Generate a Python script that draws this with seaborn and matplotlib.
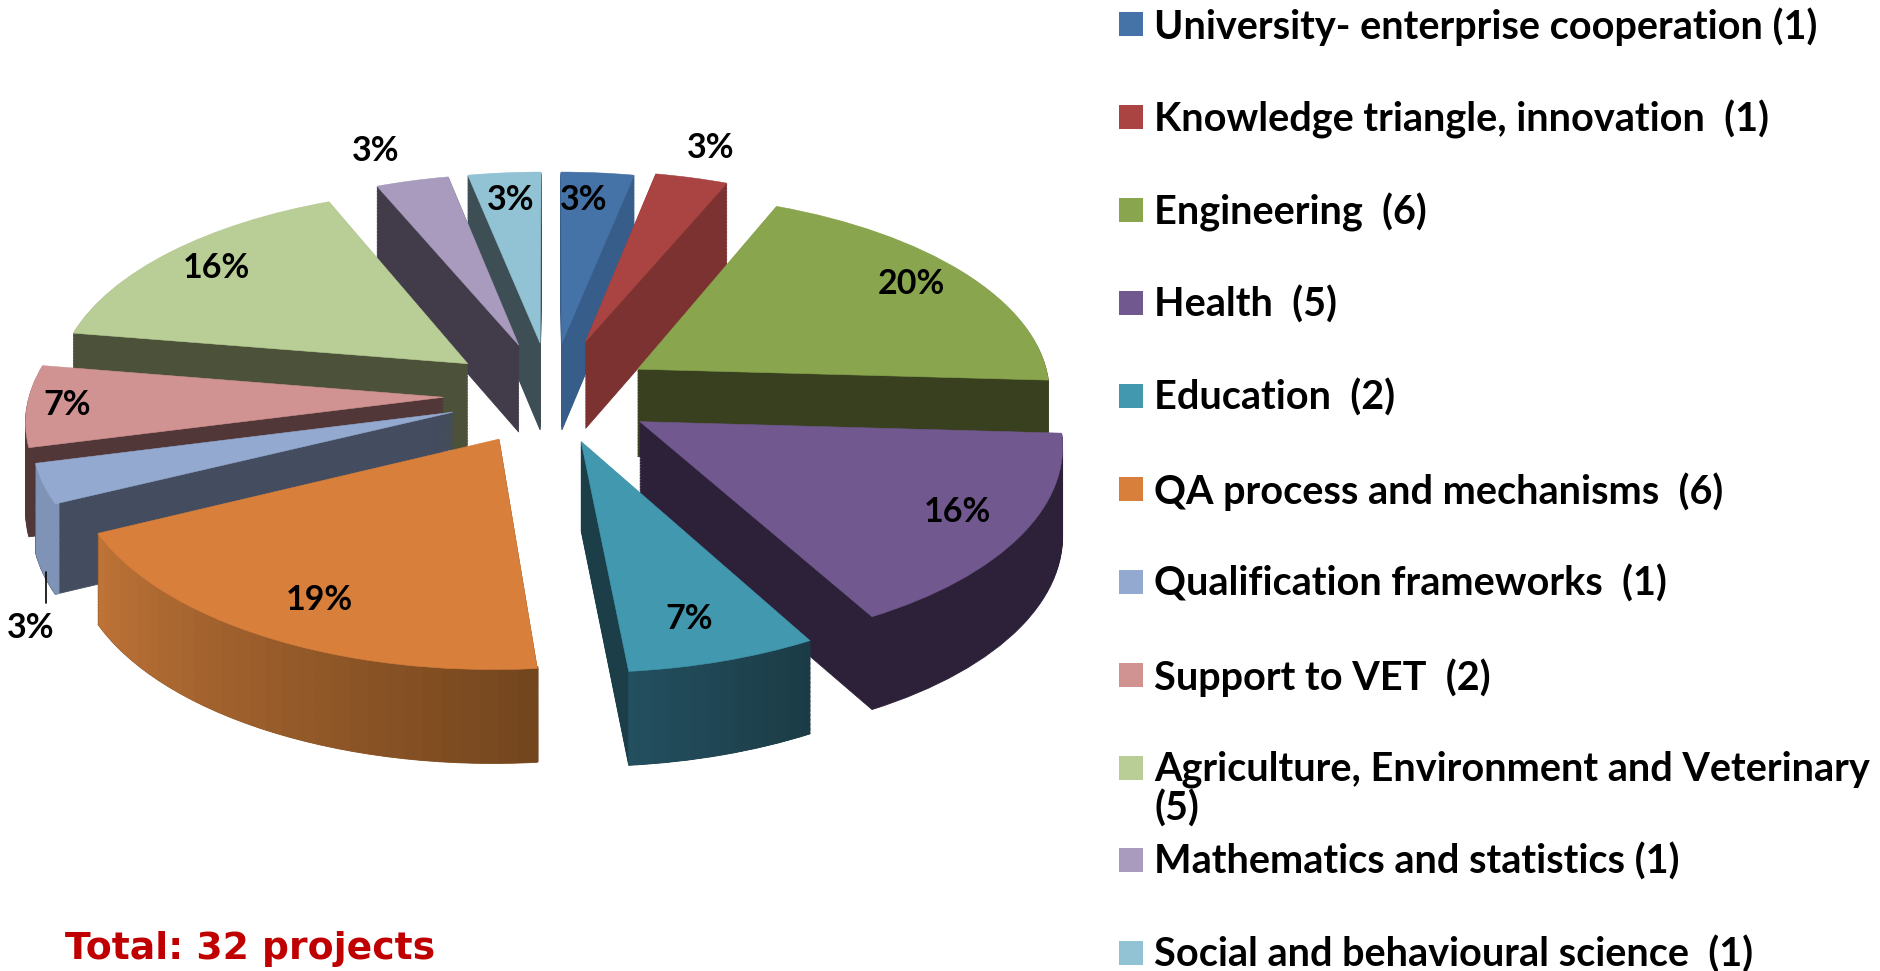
import numpy as np
import matplotlib
matplotlib.use("Agg")
import matplotlib.pyplot as plt
from matplotlib.patches import Wedge, Rectangle
from matplotlib.colors import to_rgb
from matplotlib.transforms import Transform
import seaborn as sns

categories = ["University- enterprise cooperation (1)", "Knowledge triangle, innovation  (1)",
              "Engineering  (6)", "Health  (5)", "Education  (2)", "QA process and mechanisms  (6)",
              "Qualification frameworks  (1)", "Support to VET  (2)",
              "Agriculture, Environment and Veterinary\n(5)", "Mathematics and statistics (1)",
              "Social and behavioural science  (1)"]
shares = [3.2, 3.2, 19.6, 16.1, 6.6, 19.4, 3.2, 6.6, 16.1, 3.2, 3.2]
top_colors = ["#4572A7", "#A94442", "#89A54E", "#71588F", "#4198AF", "#D87F3C",
              "#93A9CF", "#D19392", "#B9CD96", "#A99BBD", "#92C3D4"]
side_colors = ["#375D8A", "#7D3232", "#394020", "#2C2138", "#1B3E48", "#8C5A2B",
               "#434D5F", "#523739", "#4C5239", "#423C4A", "#3D4E55"]
explode = [.27, .29, .25, .25, .24, .25, .25, .26, .26, .27, .27]
# outer rim shading: slice index -> colours from left to right on the picture
rim_shades = {4: ("#234F5F", "#1B3C46"), 5: ("#BE7337", "#74461E"),
              6: ("#7E93B6", "#7E93B6")}
total_text = "Total: 32 projects"

W, H = 1880, 971
CX, CY, RX, RY, P, DEPTH = 551, 395, 414, 198, .1, 88
label_xy = [(584, 200), (711, 148), (911, 284), (957, 512), (689, 619), (319, 600),
            (31, 628), (67, 405), (216, 268), (376, 151), (511, 200)]
legend_y = [24, 117, 210, 303, 396, 489, 582, 675, 768, 860, 953]
draw_order = [10, 0, 9, 1, 8, 2, 7, 6, 3, 5, 4]


class Tilt(Transform):
    # unit pie plane -> picture pixels, with a bit of perspective
    input_dims = output_dims = 2
    is_affine = False

    def __init__(self, z=0):
        super().__init__()
        self.z = z

    def transform_non_affine(self, xy):
        xy = np.asarray(xy, dtype=float)
        w = 1 + P * xy[:, 1]
        return np.column_stack([CX + RX * xy[:, 0] / w,
                                CY - RY * xy[:, 1] / w + self.z / np.sqrt(w)])


sns.set_theme(style="white")
plt.rcParams["font.family"] = ["Lato", "DejaVu Sans"]

fig = plt.figure(figsize=(W / 100, H / 100), dpi=100)
ax = fig.add_axes([0, 0, 1, 1])
wedges, _, pct = ax.pie(shares, explode=explode, colors=sns.color_palette(top_colors),
                        startangle=90, counterclock=False, autopct="%.0f%%")
ax.set_aspect("auto")
ax.set_xlim(0, W)
ax.set_ylim(H, 0)
ax.axis("off")

for rank, i in enumerate(draw_order):
    w = wedges[i]
    base_z = 2 + rank
    w.set_transform(Tilt() + ax.transData)
    w.set_zorder(base_z + .9)
    w.set_edgecolor(top_colors[i])
    w.set_linewidth(.4)
    for z in np.arange(DEPTH, 0, -1.5):
        side = Wedge(w.center, w.r, w.theta1, w.theta2, color=side_colors[i], lw=.6,
                     transform=Tilt(z) + ax.transData, zorder=base_z)
        ax.add_patch(side)
    if i in rim_shades:
        steps = 30
        a, b = np.array(to_rgb(rim_shades[i][0])), np.array(to_rgb(rim_shades[i][1]))
        edges = np.linspace(w.theta1, w.theta2, steps + 1)
        for k in range(steps):
            col = a + (b - a) * k / (steps - 1)
            for z in np.arange(DEPTH, 0, -1.2):
                rim = Wedge(w.center, w.r, edges[k], edges[k + 1] + .15, width=.01, color=col, lw=0,
                            transform=Tilt(z) + ax.transData, zorder=base_z + .5)
                ax.add_patch(rim)

for t, xy in zip(pct, label_xy):
    t.set_position(xy)
    t.set(fontsize=24.5, fontweight="bold", color="black", ha="center", va="center", zorder=50)

ax.plot([46, 46], [572, 603], color="black", lw=1.2, zorder=50)

for name, col, y in zip(categories, top_colors, legend_y):
    ax.add_patch(Rectangle((1119, y - 12), 24, 24, color=col, lw=0, zorder=40))
    ax.text(1154, y - 17, name, fontsize=28.5, fontweight="bold", color="black", ha="left", va="top",
            linespacing=1.05, zorder=50)

ax.text(65, 949, total_text, fontsize=27.2, fontweight="bold", color="#C00000", family="DejaVu Sans",
        ha="left", va="center", zorder=50)

fig.savefig("out.png", dpi=100)
